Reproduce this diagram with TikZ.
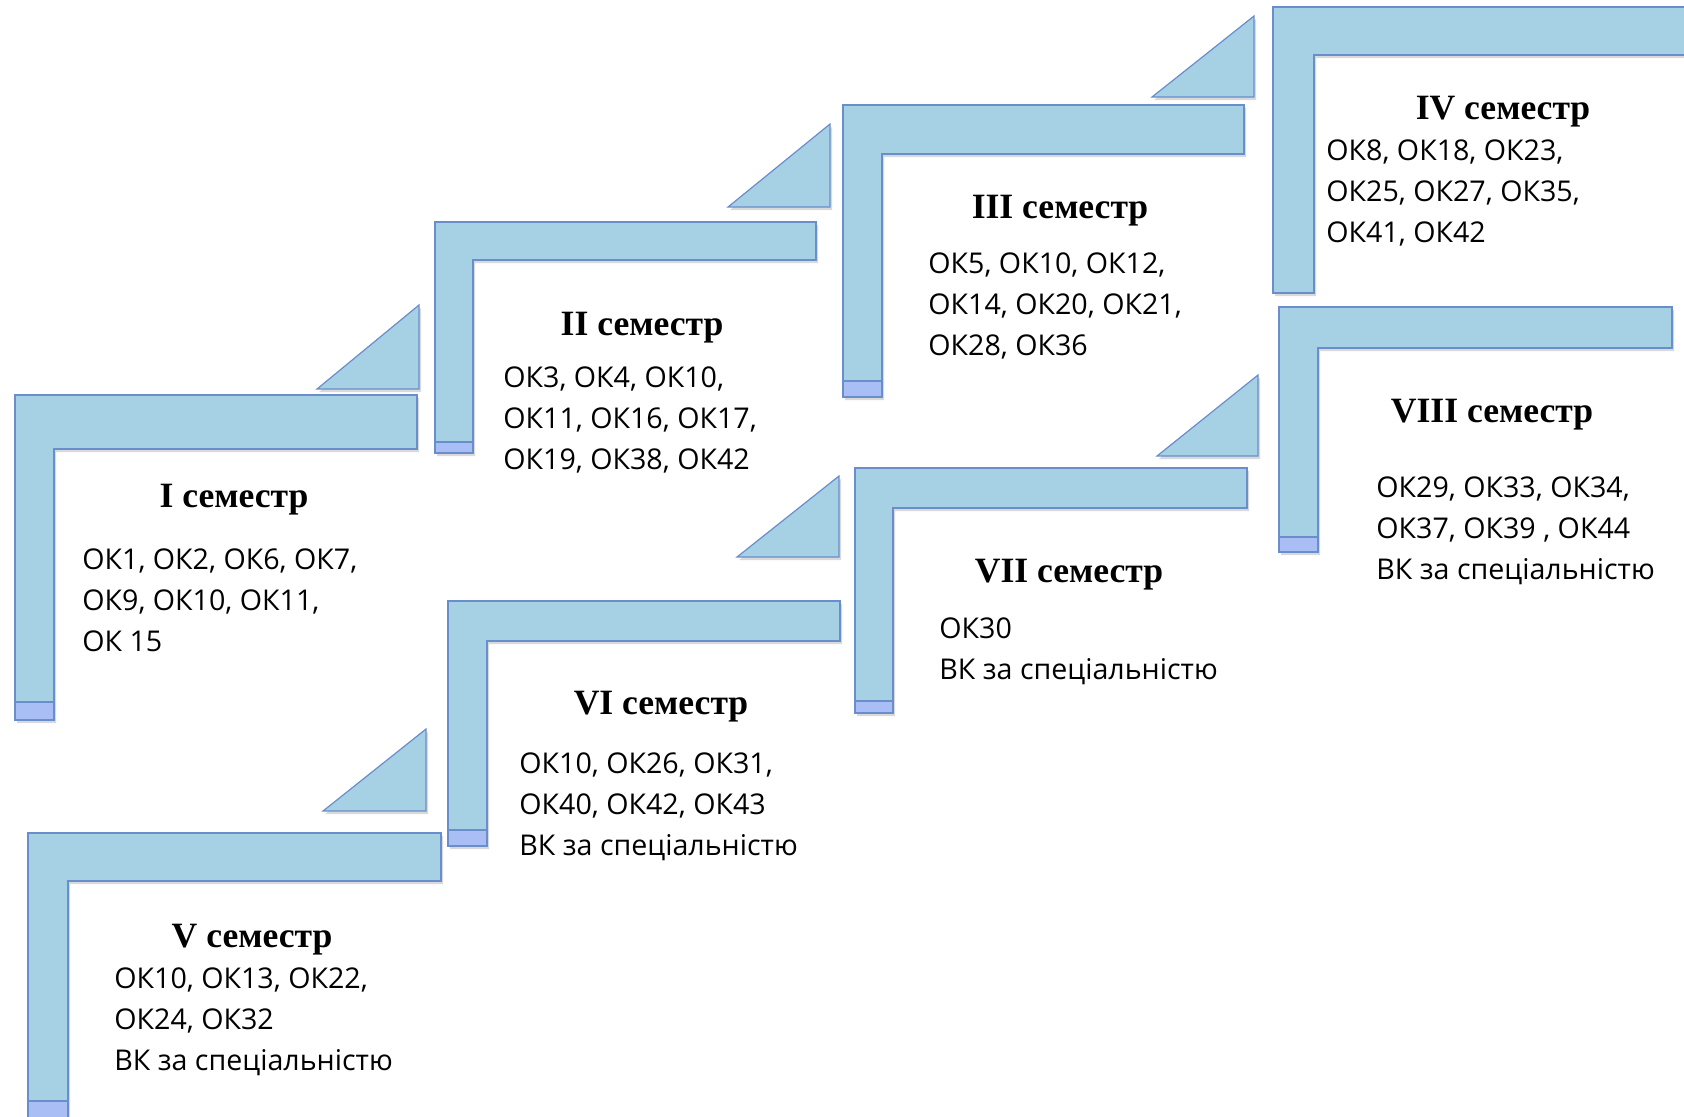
\documentclass[tikz,border=0pt]{standalone}
\usepackage{fontspec}
\setmainfont{Open Sans}
\newfontfamily\headfont{Liberation Serif}
\usetikzlibrary{shadows}
\definecolor{stairblue}{HTML}{A6D0E3}
\definecolor{stairedge}{HTML}{6A8DCB}
\definecolor{stairfoot}{HTML}{A8BEF5}
\begin{document}
\begin{tikzpicture}[
    x=0.5pt, y=-0.5pt,
    stair/.style={fill=stairblue,draw=stairedge,line width=0.6pt,
      drop shadow={shadow xshift=1pt,shadow yshift=-1.5pt,opacity=0.3}},
    wedge/.style={stair},
    foot/.style={fill=stairfoot,draw=stairedge,line width=0.6pt},
    heading/.style={anchor=base,inner sep=0pt,font=\headfont\bfseries\fontsize{17.8}{20}\selectfont},
    courses/.style={anchor=north west,inner sep=0pt,align=left,font=\fontsize{14.3}{20.5}\selectfont}
  ]
  \useasboundingbox (0,0) rectangle (1684,1116);
  \clip (0,0) rectangle (1684,1116);

  % Semester I
  \draw[stair] (15,395) -- (417,395) -- (417,449) -- (54,449) -- (54,720) -- (15,720) -- cycle;
  \draw[foot] (15,702) rectangle (54,720);
  \draw[wedge] (317,389) -- (419,305) -- (419,389) -- cycle;
  \node[heading] (sem1) at (234,507) {I семестр};
  \node[courses] (list1) at (82,548) {ОК1, ОК2, ОК6, ОК7,\\ОК9, ОК10, ОК11,\\ОК 15};

  % Semester II
  \draw[stair] (435,222) -- (816,222) -- (816,260) -- (473,260) -- (473,453) -- (435,453) -- cycle;
  \draw[foot] (435,442) rectangle (473,453);
  \draw[wedge] (728,207) -- (830,124) -- (830,207) -- cycle;
  \node[heading] (sem2) at (642,335) {II семестр};
  \node[courses] (list2) at (503,366) {ОК3, ОК4, ОК10,\\ОК11, ОК16, ОК17,\\ОК19, ОК38, ОК42};

  % Semester III
  \draw[stair] (843,105) -- (1244,105) -- (1244,154) -- (882,154) -- (882,397) -- (843,397) -- cycle;
  \draw[foot] (843,381) rectangle (882,397);
  \draw[wedge] (1152,97) -- (1254,16) -- (1254,97) -- cycle;
  \node[heading] (sem3) at (1060,218) {III семестр};
  \node[courses] (list3) at (928,252) {ОК5, ОК10, ОК12,\\ОК14, ОК20, ОК21,\\ОК28, ОК36};

  % Semester IV
  \draw[stair] (1273,7) -- (1700,7) -- (1700,55) -- (1314,55) -- (1314,293) -- (1273,293) -- cycle;
  \node[heading] (sem4) at (1503,119) {IV семестр};
  \node[courses] (list4) at (1326,139) {ОК8, ОК18, ОК23,\\ОК25, ОК27, ОК35,\\ОК41, ОК42};

  % Semester V
  \draw[stair] (28,833) -- (441,833) -- (441,881) -- (68,881) -- (68,1130) -- (28,1130) -- cycle;
  \draw[foot] (28,1101) rectangle (68,1130);
  \draw[wedge] (323,811) -- (426,729) -- (426,811) -- cycle;
  \node[heading] (sem5) at (252,947) {V семестр};
  \node[courses] (list5) at (114,967) {ОК10, ОК13, ОК22,\\ОК24, ОК32\\ВК за спеціальністю};

  % Semester VI
  \draw[stair] (448,601) -- (840,601) -- (840,641) -- (487,641) -- (487,846) -- (448,846) -- cycle;
  \draw[foot] (448,830) rectangle (487,846);
  \draw[wedge] (737,557) -- (839,476) -- (839,557) -- cycle;
  \node[heading] (sem6) at (661,714) {VI семестр};
  \node[courses] (list6) at (519,752) {ОК10, ОК26, ОК31,\\ОК40, ОК42, ОК43\\ВК за спеціальністю};

  % Semester VII
  \draw[stair] (855,468) -- (1247,468) -- (1247,508) -- (893,508) -- (893,713) -- (855,713) -- cycle;
  \draw[foot] (855,701) rectangle (893,713);
  \draw[wedge] (1157,456) -- (1258,375) -- (1258,456) -- cycle;
  \node[heading] (sem7) at (1069,582) {VII семестр};
  \node[courses] (list7) at (939,617) {ОК30\\ВК за спеціальністю};

  % Semester VIII
  \draw[stair] (1279,307) -- (1672,307) -- (1672,348) -- (1318,348) -- (1318,552) -- (1279,552) -- cycle;
  \draw[foot] (1279,537) rectangle (1318,552);
  \node[heading] (sem8) at (1492,422) {VIII семестр};
  \node[courses] (list8) at (1376,476) {ОК29, ОК33, ОК34,\\ОК37, ОК39 , ОК44\\ВК за спеціальністю};

\end{tikzpicture}
\end{document}
